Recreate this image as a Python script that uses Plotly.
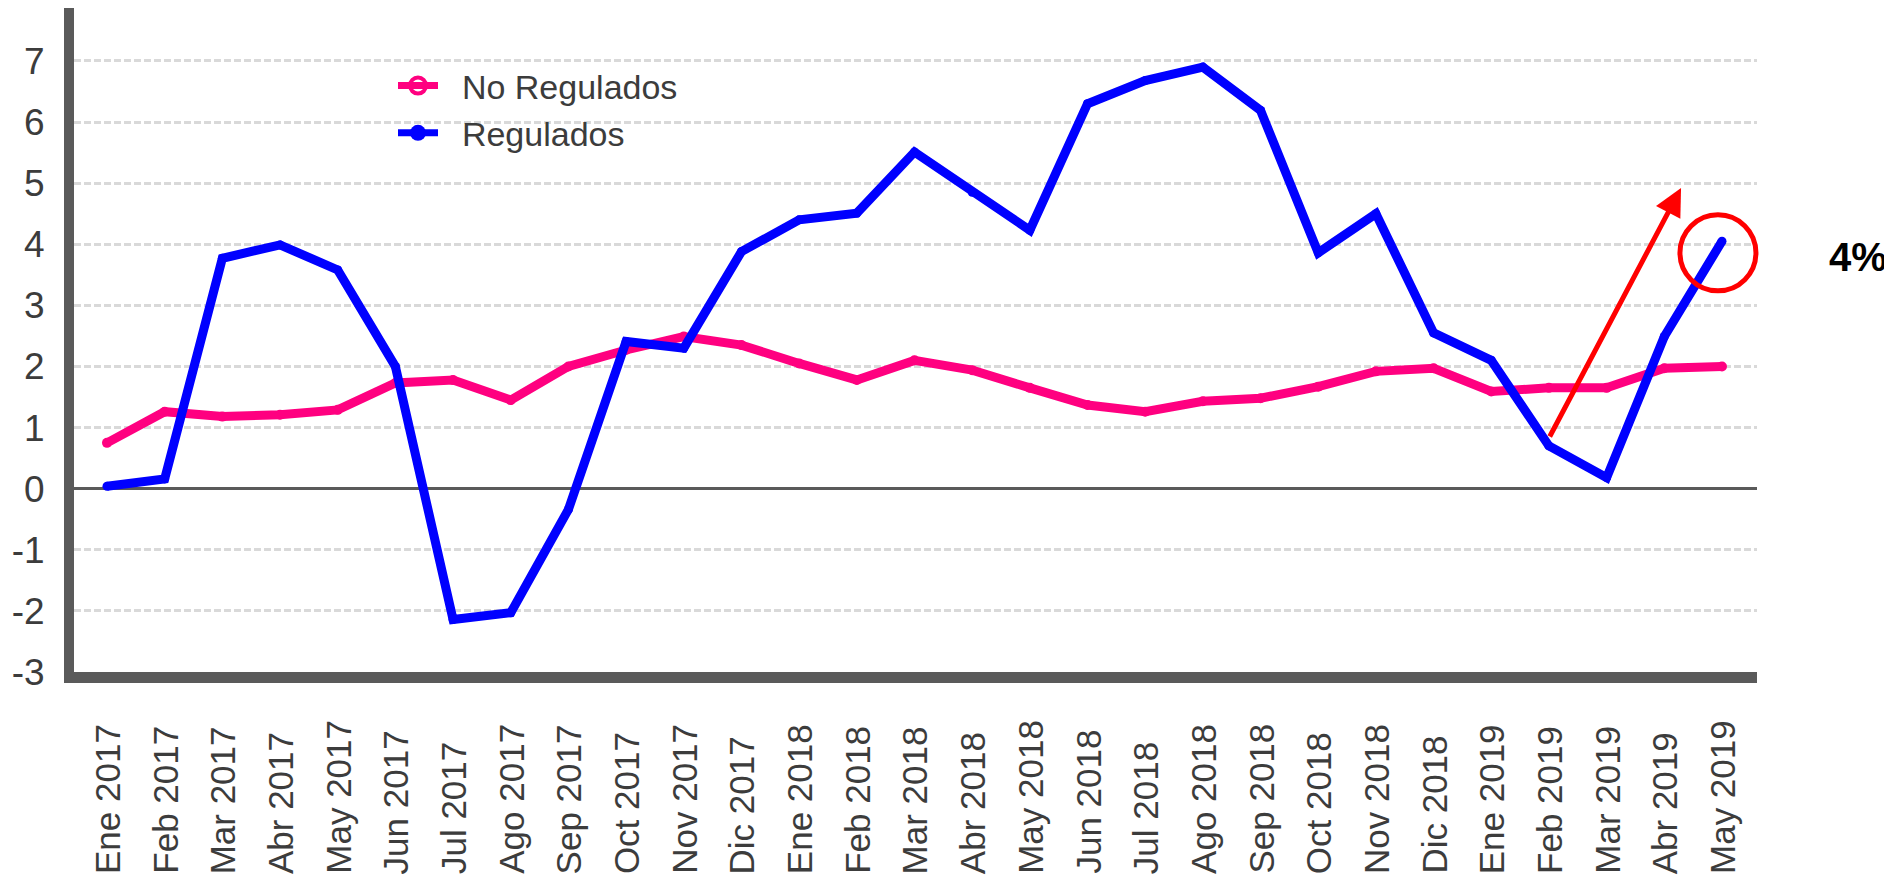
import plotly.graph_objects as go

# ---------------- data ----------------
months = ["Ene 2017", "Feb 2017", "Mar 2017", "Abr 2017", "May 2017", "Jun 2017",
          "Jul 2017", "Ago 2017", "Sep 2017", "Oct 2017", "Nov 2017", "Dic 2017",
          "Ene 2018", "Feb 2018", "Mar 2018", "Abr 2018", "May 2018", "Jun 2018",
          "Jul 2018", "Ago 2018", "Sep 2018", "Oct 2018", "Nov 2018", "Dic 2018",
          "Ene 2019", "Feb 2019", "Mar 2019", "Abr 2019", "May 2019"]

no_regulados = [0.75, 1.26, 1.18, 1.21, 1.29, 1.73, 1.78, 1.45, 2.00, 2.27, 2.49, 2.35,
                2.05, 1.78, 2.10, 1.94, 1.65, 1.37, 1.26, 1.43, 1.48, 1.67, 1.92, 1.97,
                1.59, 1.65, 1.65, 1.97, 2.00]

regulados = [0.04, 0.16, 3.77, 3.99, 3.58, 2.00, -2.14, -2.03, -0.34, 2.41, 2.30, 3.88,
             4.40, 4.51, 5.51, 4.85, 4.23, 6.30, 6.68, 6.90, 6.19, 3.86, 4.50, 2.55,
             2.10, 0.70, 0.18, 2.49, 4.05]

y_ticks = [-3, -2, -1, 0, 1, 2, 3, 4, 5, 6, 7]
y_tick_text = ["-3", "-2", "-1", "0", "1", "2", "3", "4", "5", "6", "7"]

series_names = ["No Regulados", "Regulados"]

# annotation anchors (data space)
arrow_start = (25.0, 0.83)
arrow_end = (27.29, 4.92)
circle_center = (27.93, 3.86)
highlight_text = "4%"

# ---------------- layout constants ----------------
W, H = 1892, 878
OFF = 8  # page body margin of the rendered html
ML, MR, MT, MB = 74 - OFF, 135 + OFF, 0, 214
PLOT_W = W - ML - MR
PLOT_H = H - MT - MB

PINK = "#ff0080"
BLUE = "#0000ff"
AXIS_GREY = "#5a5a5a"
TEXT_GREY = "#3c3c3c"
FONT = "Liberation Sans, Arial, sans-serif"


def px_to_paper_y(py):
    # py is a screen pixel
    return (H - MB - (py - OFF)) / PLOT_H


def px_to_paper_x(px):
    return ((px - OFF) - ML) / PLOT_W


fig = go.Figure()

fig.add_trace(go.Scatter(
    x=list(range(len(months))), y=no_regulados, mode="lines+markers",
    line=dict(color=PINK, width=9), marker=dict(color=PINK, size=10),
    showlegend=False, name=series_names[0]))

fig.add_trace(go.Scatter(
    x=list(range(len(months))), y=regulados, mode="lines+markers",
    line=dict(color=BLUE, width=9), marker=dict(color=BLUE, size=9),
    showlegend=False, name=series_names[1]))

# legend-only entries (styled like the original legend)
fig.add_trace(go.Scatter(
    x=[None], y=[None], mode="lines+markers", name="\u00a0\u00a0" + series_names[0],
    line=dict(color=PINK, width=7),
    marker=dict(symbol="circle-open", color=PINK, size=16, line=dict(width=4))))
fig.add_trace(go.Scatter(
    x=[None], y=[None], mode="lines+markers", name="\u00a0\u00a0" + series_names[1],
    line=dict(color=BLUE, width=7),
    marker=dict(symbol="circle", color=BLUE, size=16)))

# red circle highlighting the last value
fig.add_trace(go.Scatter(
    x=[circle_center[0]], y=[circle_center[1]], mode="markers",
    marker=dict(symbol="circle-open", size=76, color="#ff0000", line=dict(width=5)),
    cliponaxis=False, showlegend=False, hoverinfo="skip"))

x_range = [-0.572, 28.607]
y_range = [-3, 7 + (61 - 8) / 61.14]

fig.update_layout(
    width=W, height=H,
    margin=dict(l=ML, r=MR, t=MT, b=MB),
    paper_bgcolor="white", plot_bgcolor="white",
    font=dict(family=FONT, color=TEXT_GREY, size=34),
    legend=dict(
        x=px_to_paper_x(393), y=px_to_paper_y(57), xanchor="left", yanchor="top",
        bgcolor="rgba(0,0,0,0)", font=dict(size=34, color=TEXT_GREY),
        itemwidth=40, tracegroupgap=0),
    xaxis=dict(
        range=x_range, showgrid=False, zeroline=False,
        showline=True, linecolor=AXIS_GREY, linewidth=11,
        showticklabels=False, ticks=""),
    yaxis=dict(
        range=y_range, tickvals=y_ticks, ticktext=y_tick_text,
        showgrid=True, gridcolor="#d9d9d9", gridwidth=3, griddash="7px,3px",
        zeroline=True, zerolinecolor=AXIS_GREY, zerolinewidth=3,
        showline=True, linecolor=AXIS_GREY, linewidth=10,
        ticks="", tickfont=dict(size=37, color=TEXT_GREY),
        ticklabelstandoff=12),
)

# rotated month labels, text starts aligned at the bottom like the original
for i, m in enumerate(months):
    fig.add_annotation(
        x=i, y=px_to_paper_y(876), xref="x", yref="paper",
        text=m, textangle=-90, showarrow=False,
        xanchor="center", yanchor="bottom", xshift=0,
        font=dict(size=35, color=TEXT_GREY, family=FONT))

# red arrow
fig.add_annotation(
    x=arrow_end[0], y=arrow_end[1], ax=arrow_start[0], ay=arrow_start[1],
    xref="x", yref="y", axref="x", ayref="y", text="",
    showarrow=True, arrowhead=2, arrowsize=1.1, arrowwidth=5, arrowcolor="#ff0000",
    standoff=0, startstandoff=0)

fig.add_annotation(
    x=px_to_paper_x(1858), y=px_to_paper_y(257), xref="paper", yref="paper",
    text="<b>" + highlight_text + "</b>", showarrow=False,
    xanchor="center", yanchor="middle",
    font=dict(size=40, color="#000000", family=FONT))

fig.write_html("out.html")
